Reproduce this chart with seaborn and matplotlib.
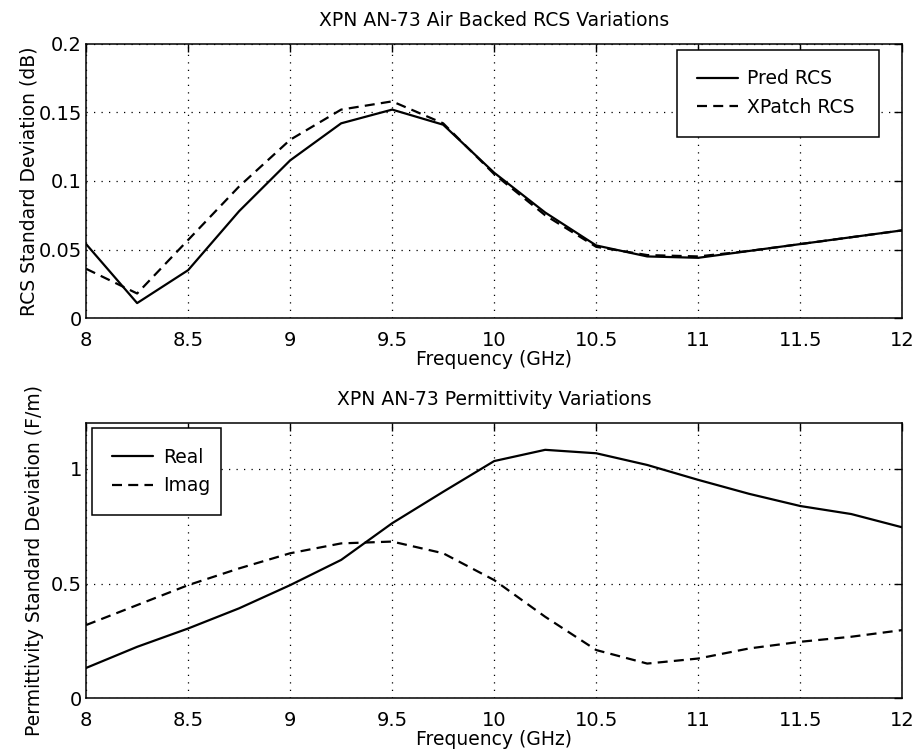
import numpy as np
import pandas as pd
import matplotlib
matplotlib.use("Agg")
import matplotlib.pyplot as plt
import seaborn as sns
from matplotlib.ticker import FuncFormatter

# Data
freq = [8.0, 8.25, 8.5, 8.75, 9.0, 9.25, 9.5, 9.75, 10.0, 10.25, 10.5, 10.75,
        11.0, 11.25, 11.5, 11.75, 12.0]

pred_rcs = [0.054, 0.011, 0.035, 0.078, 0.115, 0.142, 0.152, 0.141, 0.106,
            0.077, 0.053, 0.045, 0.044, 0.049, 0.054, 0.059, 0.064]
xpatch_rcs = [0.036, 0.018, 0.057, 0.096, 0.130, 0.152, 0.158, 0.142, 0.105,
              0.075, 0.052, 0.046, 0.045, 0.049, 0.054, 0.059, 0.064]

real_perm = [0.132, 0.224, 0.304, 0.392, 0.493, 0.603, 0.763, 0.900, 1.034,
             1.083, 1.068, 1.017, 0.952, 0.891, 0.838, 0.803, 0.745]
imag_perm = [0.319, 0.406, 0.493, 0.566, 0.632, 0.675, 0.683, 0.632, 0.515,
             0.355, 0.210, 0.151, 0.173, 0.217, 0.246, 0.268, 0.297]

rcs_names = ["Pred RCS", "XPatch RCS"]
perm_names = ["Real", "Imag"]

df_rcs = pd.DataFrame({
    "freq": freq * 2,
    "value": pred_rcs + xpatch_rcs,
    "series": [rcs_names[0]] * len(freq) + [rcs_names[1]] * len(freq),
})
df_perm = pd.DataFrame({
    "freq": freq * 2,
    "value": real_perm + imag_perm,
    "series": [perm_names[0]] * len(freq) + [perm_names[1]] * len(freq),
})

sns.set_theme(style="white")
plt.rcParams["font.family"] = ["DejaVu Sans"]
plt.rcParams["text.color"] = "black"
plt.rcParams["axes.labelcolor"] = "black"
plt.rcParams["axes.titlecolor"] = "black"
plt.rcParams["legend.labelcolor"] = "black"

fig = plt.figure(figsize=(9.16, 7.54), dpi=100)
ax1 = fig.add_axes([0.094, 0.578, 0.891, 0.364])
ax2 = fig.add_axes([0.094, 0.074, 0.891, 0.365])

lw = 1.6
dash = (4.5, 2.8)
fs = 13.5


def style_axes(ax, yticks, ylim):
    ax.set_xlim(8, 12)
    ax.set_ylim(*ylim)
    ax.set_xticks(np.arange(8, 12.01, 0.5))
    ax.set_yticks(yticks)
    ax.xaxis.set_major_formatter(FuncFormatter(lambda v, p: f"{v:g}"))
    ax.yaxis.set_major_formatter(FuncFormatter(lambda v, p: f"{v:g}"))
    ax.tick_params(direction="in", length=6, width=1, colors="black",
                   labelsize=14, top=True, right=True)
    ax.tick_params(axis="x", pad=9)
    ax.tick_params(axis="y", pad=3)
    ax.grid(True, color="black", linestyle=(0, (1, 5)), linewidth=0.9)
    for s in ax.spines.values():
        s.set_visible(True)
        s.set_color("black")
        s.set_linewidth(1.1)
    ax.set_xlabel("Frequency (GHz)", fontsize=fs, labelpad=0)


def add_legend(ax, loc, anchor):
    leg = ax.legend(loc=loc, fontsize=fs, frameon=True, fancybox=False,
                    edgecolor="black", handlelength=2.2, handletextpad=0.5,
                    borderpad=1.05, labelspacing=0.5, borderaxespad=0,
                    mode="expand", bbox_to_anchor=anchor)
    leg.get_frame().set_linewidth(1.1)
    leg.get_frame().set_alpha(None)
    return leg


# Top panel: RCS variations
sns.lineplot(data=df_rcs, x="freq", y="value", style="series",
             dashes={rcs_names[0]: "", rcs_names[1]: dash},
             color="black", linewidth=lw, ax=ax1, sort=False)
style_axes(ax1, [0, 0.05, 0.1, 0.15, 0.2], (0, 0.2))
ax1.set_ylabel("RCS Standard Deviation (dB)", fontsize=fs, labelpad=0)
ax1.set_title("XPN AN-73 Air Backed RCS Variations", fontsize=fs, pad=13)
add_legend(ax1, "upper right", (0.724, 0.0, 0.248, 0.978))

# Bottom panel: permittivity variations
sns.lineplot(data=df_perm, x="freq", y="value", style="series",
             dashes={perm_names[0]: "", perm_names[1]: dash},
             color="black", linewidth=lw, ax=ax2, sort=False)
style_axes(ax2, [0, 0.5, 1], (0, 1.2))
ax2.set_ylabel("Permittivity Standard Deviation (F/m)", fontsize=fs, labelpad=5)
ax2.set_title("XPN AN-73 Permittivity Variations", fontsize=fs, pad=13)
add_legend(ax2, "upper left", (0.0077, 0.0, 0.158, 0.981))

fig.savefig("out.png", dpi=100)
